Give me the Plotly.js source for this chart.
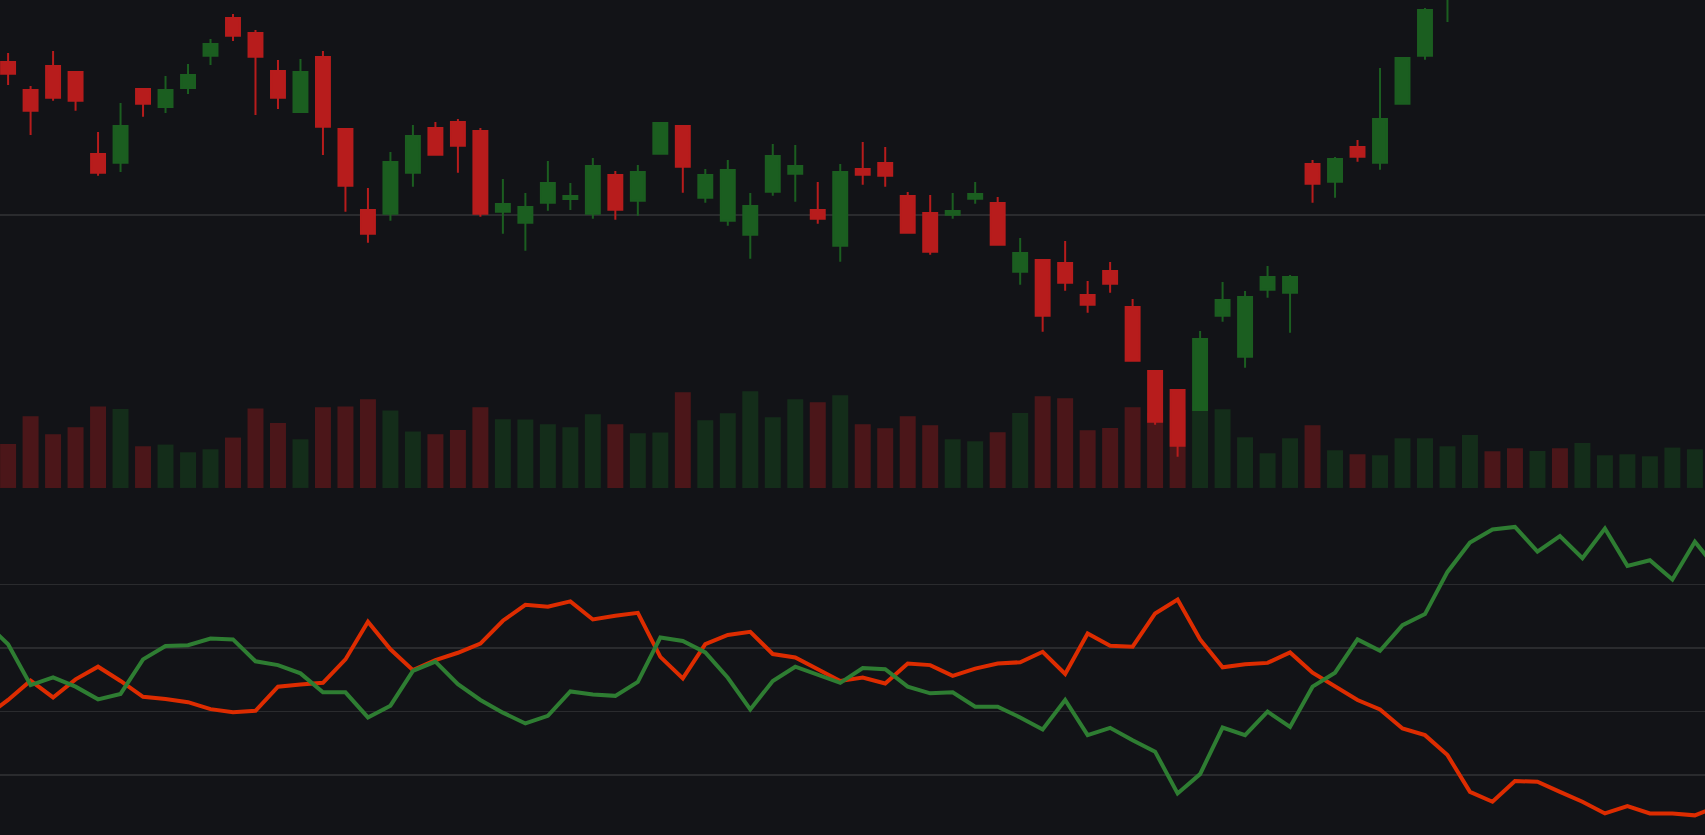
<!DOCTYPE html>
<html>
<head>
<meta charset="utf-8">
<script src="https://cdn.plot.ly/plotly-3.0.1.min.js"></script>
<style>
  html, body { margin: 0; padding: 0; background: #121317; }
  #chart { width: 1705px; height: 835px; }
</style>
</head>
<body>
<div id="chart"></div>
<script>
// bar index 0..75 (the view starts and ends a hair inside the data)
const open  = [130.60,125.00,129.80,128.60,112.20,110.46,125.20,121.60,125.40,131.86,
               139.40,136.40,128.80,120.60,131.60,117.20,101.00,100.26,108.46,117.40,
               118.60,116.80,100.66, 98.46,102.46,103.20,100.26,108.00,102.86,112.26,
               117.80,103.46, 98.86, 96.06,104.66,108.26,101.00, 93.86,109.20,110.40,
               103.80,100.40,100.06,103.26,102.40, 88.66, 91.00, 90.40, 84.00, 88.80,
                81.60, 68.80, 65.00, 61.00, 79.86, 71.66, 85.06, 84.46,110.20,106.66,
               113.60,110.46,122.26,131.86,143.50,151.50,157.00,154.20,150.80,156.00,
               152.80,158.60,161.00,163.40,165.80,167.60];
const high  = [132.40,125.80,132.80,128.60,116.60,122.40,125.20,127.80,130.20,135.20,
               140.20,137.00,131.00,131.20,132.80,117.20,105.40,112.60,118.00,118.60,
               119.20,117.40,107.20,104.40,110.80,106.40,111.40,108.80,110.00,118.40,
               117.80,109.20,111.00,104.40,114.20,114.00,106.60,110.20,114.60,113.60,
               104.60,104.00,104.40,106.60,103.60, 95.40, 91.00, 94.80, 86.80, 90.60,
                83.20, 68.80, 65.20, 76.80, 86.60, 84.80, 89.80, 88.00,111.00,111.60,
               115.00,129.40,131.40,141.40,154.00,158.40,159.60,155.80,158.00,157.40,
               161.00,163.20,165.00,167.40,170.20,171.80];
const low   = [126.00,116.00,122.86,120.86,107.86,108.60,119.66,120.40,124.20,130.00,
               134.80,120.00,121.20,120.40,112.00,100.66, 94.46, 98.86,105.66,112.06,
               108.46, 99.66, 96.26, 92.86,100.86,101.00, 99.26, 99.06, 99.86,112.26,
               104.46,102.46, 97.86, 91.26,103.86,102.66, 98.26, 90.66,106.06,105.66,
                96.46, 92.06, 99.26,102.26, 94.06, 86.06, 76.66, 84.86, 80.46, 84.46,
                70.86, 58.06, 51.66, 61.00, 78.66, 69.46, 83.46, 76.46,102.46,103.46,
               110.66,109.06,122.06,131.06,138.60,150.20,152.40,149.00,149.60,151.20,
               151.60,157.00,159.80,162.40,164.60,166.80];
const close = [128.26,120.86,123.46,122.86,108.46,117.80,122.26,125.00,128.00,134.20,
               135.86,131.66,123.46,128.60,117.66,105.86, 96.26,110.60,115.80,112.06,
               113.86,100.26,102.20,101.60,106.40,103.80,109.80,101.06,108.60,118.40,
               109.66,108.00,109.00,101.80,111.80,109.80, 99.26,108.60,108.06,107.86,
                96.46, 92.66,100.80,104.20, 94.06, 92.40, 79.86, 86.46, 82.06, 86.26,
                70.86, 58.66, 53.86, 75.20, 83.00, 83.60, 87.60, 87.60,106.26,111.20,
               111.66,119.20,131.40,141.00,152.00,157.20,153.80,150.60,156.40,152.60,
               158.80,161.40,163.60,166.20,168.00,170.40];
const volume = [4400,7170,5370,6070,8140,7900,4170,4340,3570,3870,
                5040,7940,6500,4870,8070,8140,8870,7740,5640,5370,
                5800,8070,6870,6840,6370,6070,7370,6370,5470,5540,
                9570,6770,7470,9670,7070,8870,8570,9270,6370,5970,
                7170,6270,4870,4670,5570,7500,9170,8970,5770,6000,
                8070,7500,7800,8200,7870,5070,3470,4970,6270,3770,
                3370,3270,4970,4970,4170,5300,3670,3970,3700,3970,
                4500,3270,3370,3170,4040,3870];

// indicator lines, index -1..76
const upLine   = [68.0,61.2,48.3,50.7,47.8,43.8,45.5,56.4,60.6,60.9,63.0,
                  62.7,55.8,54.6,52.0,46.0,46.0,38.1,41.8,52.8,55.7,
                  48.6,43.6,39.6,36.2,38.6,46.3,45.3,44.9,49.3,63.3,
                  62.2,58.6,50.6,40.6,49.6,54.1,51.7,49.0,53.7,53.3,
                  47.8,45.7,46.0,41.5,41.5,38.1,34.3,43.6,32.5,34.8,
                  30.9,27.3,14.1,20.2,34.9,32.5,39.9,35.1,47.8,52.2,
                  62.7,59.1,67.2,70.7,84.0,93.3,97.4,98.2,90.4,95.3,
                  88.3,97.7,85.9,87.7,81.6,93.5,84.8];
const downLine = [38.3,43.6,49.7,44.4,50.1,54.1,49.6,44.6,43.9,42.9,40.7,
                  39.7,40.2,47.8,48.5,49.0,56.4,68.3,59.6,53.0,56.2,
                  58.5,61.4,68.6,73.6,73.0,74.7,69.0,70.2,71.1,57.2,
                  50.4,61.2,64.1,65.1,58.1,57.0,53.2,49.6,50.7,48.8,
                  55.1,54.6,51.2,53.5,55.1,55.5,58.8,51.8,64.6,60.7,
                  60.4,70.9,75.3,62.7,53.9,54.9,55.3,58.6,52.2,47.8,
                  43.6,40.6,34.6,32.5,26.2,14.6,11.5,18.0,17.8,14.6,
                  11.5, 7.8,10.1, 7.8, 7.8, 7.2,10.0];

const idx = open.map((_, i) => i);
const lineIdx = upLine.map((_, i) => i - 1);

const UP = '#1b5e20', DOWN = '#b71c1c';
const volColors = idx.map(i => close[i] >= open[i] ? 'rgba(27,94,32,0.35)' : 'rgba(183,28,28,0.35)');

const data = [
  {
    type: 'bar', x: idx, y: volume, xaxis: 'x', yaxis: 'y',
    marker: { color: volColors, line: { width: 0 } },
    hoverinfo: 'skip'
  },
  {
    type: 'candlestick', x: idx, open: open, high: high, low: low, close: close,
    xaxis: 'x', yaxis: 'y2',
    increasing: { line: { color: UP, width: 2 }, fillcolor: UP },
    decreasing: { line: { color: DOWN, width: 2 }, fillcolor: DOWN },
    hoverinfo: 'skip'
  },
  {
    type: 'scatter', mode: 'lines', x: lineIdx, y: downLine, xaxis: 'x', yaxis: 'y3',
    line: { color: '#dd2c00', width: 4 }, hoverinfo: 'skip'
  },
  {
    type: 'scatter', mode: 'lines', x: lineIdx, y: upLine, xaxis: 'x', yaxis: 'y3',
    line: { color: '#2e7d32', width: 4 }, hoverinfo: 'skip'
  }
];

const grid = 'rgba(255,255,255,0.1)';
const layout = {
  width: 1705, height: 835,
  margin: { l: 0, r: 0, t: 0, b: 0 },
  paper_bgcolor: '#121317',
  plot_bgcolor: '#121317',
  showlegend: false,
  bargap: 0.29,
  boxgap: 0.38,
  boxgroupgap: 0,
  xaxis: {
    range: [-0.36, 75.45], showgrid: false, zeroline: false,
    showticklabels: false, ticks: '', rangeslider: { visible: false }, fixedrange: true
  },
  yaxis: {
    domain: [0.4156, 1], range: [0, 48800],
    showgrid: false, zeroline: false, showticklabels: false, fixedrange: true
  },
  yaxis2: {
    domain: [0.4156, 1], overlaying: 'y', range: [45.4, 143],
    tickvals: [100], gridcolor: grid, gridwidth: 1.5,
    zeroline: false, showticklabels: false, fixedrange: true
  },
  yaxis3: {
    domain: [0, 0.3777], range: [1, 100.5],
    tickvals: [20, 40, 60, 80], gridcolor: grid, gridwidth: 1.5,
    zeroline: false, showticklabels: false, fixedrange: true
  }
};

Plotly.newPlot('chart', data, layout, { displayModeBar: false, staticPlot: true });
</script>
</body>
</html>
